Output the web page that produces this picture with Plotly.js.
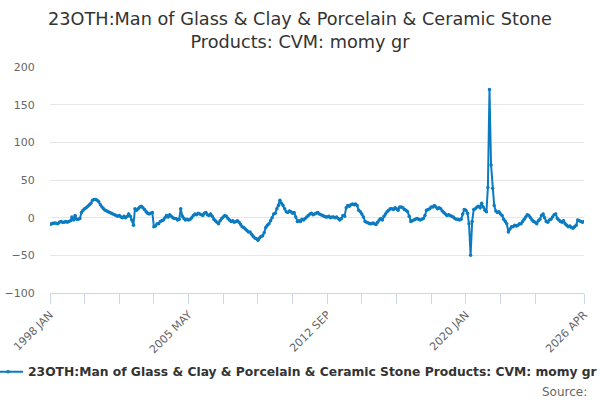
<!DOCTYPE html>
<html>
<head>
<meta charset="utf-8">
<script src="https://cdn.plot.ly/plotly-3.0.1.min.js"></script>
<style>
  html, body { margin: 0; padding: 0; background: #fff; }
  #chart { width: 600px; height: 400px; }
</style>
</head>
<body>
<div id="chart"></div>
<script>
// monthly values, one row per year, starting 1998 JAN
var values = [
  -9, -8, -7.5, -7, -7.5, -8, -6, -5, -6, -6, -5, -6,        // 1998
  -5, -4, 1, -3, 3, -2, -2, -1, 7, 10, 12, 13,               // 1999
  15, 17, 19, 23, 24, 24, 23, 21, 17, 14, 12, 10,            // 2000
  9, 8, 7, 6, 5, 4, 3, 2, 3, 1, 0, 2,                        // 2001
  0, 2, 5, 2, -3, -10, 12, 10, 12, 14, 15, 13,               // 2002
  11, 8, 6, 5, 6, 7, -12, -11, -8, -8, -5, -4,               // 2003
  -3, 0, 3, 1, 4, 2, 0, -1, -1, -3, -2, 12,                  // 2004
  2, -1, -3, -2, -3, -2, 0, 3, 5, 4, 6, 5,                   // 2005
  4, 3, 6, 7, 4, 3, 5, 2, -2, -4, -6, -8,                    // 2006
  -4, -1, 1, 3, 2, -1, -3, -5, -4, -6, -5, -4,               // 2007
  -6, -9, -12, -13, -15, -17, -19, -19, -22, -25, -27, -28,  // 2008
  -30, -27, -25, -24, -20, -13, -10, -8, -4, 0, 5, 6,        // 2009
  12, 16, 23, 19, 16, 12, 8, 7, 9, 8, 6, 7,                  // 2010
  1, -5, -4, -5, -2, -3, -1, 1, 3, 5, 6, 4,                  // 2011
  5, 6, 7, 5, 4, 3, 2, 1, 1, 2, 0, 1,                        // 2012
  1, 0, 1, -1, -3, -1, 3, 2, 13, 16, 15, 17,                 // 2013
  18, 17, 18, 16, 10, 8, 5, 1, -5, -6, -7, -8,               // 2014
  -8, -7, -8, -9, -6, -3, -1, -3, 2, 5, 8, 10,               // 2015
  12, 12, 11, 13, 12, 10, 14, 14, 13, 11, 10, 8,             // 2016
  2, -5, -4, -3, -2, -1, -2, -3, -2, -1, 3, 10,              // 2017
  11, 12, 14, 14, 16, 14, 12, 13, 12, 9, 7, 5,               // 2018
  3, 4, 3, 2, 1, -1, -2, -2, -3, -2, 5, 11,                  // 2019
  10, 6, -8, -50, -5, 11, 12, 14, 15, 13, 19, 14,            // 2020
  10, 8, 40, 170, 70, 39, 16, 9, 7, 8, 5, 3,                 // 2021
  -2, -5, -8, -19, -15, -12, -12, -10, -11, -10, -8, -8,     // 2022
  -5, -2, 1, 4, 3, 0, -3, -5, -6, -8, -4, -2,                // 2023
  3, 5, 0, -5, -6, -3, -2, 1, 4, 5, -1, -3,                  // 2024
  -5, -6, -4, -8, -10, -12, -11, -13, -14, -12, -10, -3,     // 2025
  -4, -5, -6, -5                                             // 2026
];

var startYear = 1998;
var seriesName = "23OTH:Man of Glass & Clay & Porcelain & Ceramic Stone Products: CVM: momy gr";
var chartTitle = "23OTH:Man of Glass & Clay & Porcelain & Ceramic Stone<br>Products: CVM: momy gr";

// x ticks every 22 months, label on every 4th
var tickDates = ["1998-01-01", "1999-11-01", "2001-09-01", "2003-07-01", "2005-05-01",
  "2007-03-01", "2009-01-01", "2010-11-01", "2012-09-01", "2014-07-01", "2016-05-01",
  "2018-03-01", "2020-01-01", "2021-11-01", "2023-09-01", "2026-04-01"];
var tickLabels = ["1998 JAN", "", "", "", "2005 MAY", "", "", "", "2012 SEP", "", "", "",
  "2020 JAN", "", "", "2026 APR"];

var yTicks = [-100, -50, 0, 50, 100, 150, 200];

function monthDate(i){
  var y = startYear + Math.floor(i/12);
  var m = (i % 12) + 1;
  return y + "-" + (m < 10 ? "0" + m : m) + "-01";
}

var dates = [];
for (var i = 0; i < values.length; i++) { dates.push(monthDate(i)); }

var trace = {
  x: dates, y: values, name: seriesName,
  mode: "lines+markers", type: "scatter",
  line: { color: "#0b7bc1", width: 2 },
  marker: { color: "#0b7bc1", size: 3.5 }
};

var layout = {
  width: 600, height: 400,
  margin: { l: 50, r: 16, t: 67, b: 107, pad: 0, autoexpand: false },
  paper_bgcolor: "#fff", plot_bgcolor: "#fff",
  font: { family: "DejaVu Sans, sans-serif", color: "#666" },
  title: {
    text: chartTitle,
    font: { family: "DejaVu Sans, sans-serif", size: 17.7, color: "#333" },
    x: 0.5, xanchor: "center", y: 0.937, yanchor: "top"
  },
  showlegend: true,
  legend: {
    orientation: "h", x: -0.116, xanchor: "left", y: -0.284, yanchor: "top",
    font: { family: "DejaVu Sans, sans-serif", size: 12.3, color: "#333", weight: "bold" },
    bgcolor: "rgba(0,0,0,0)"
  },
  xaxis: {
    type: "date", automargin: false,
    range: ["1998-01-01", "2026-04-01"],
    tickmode: "array", tickvals: tickDates, ticktext: tickLabels,
    tickangle: -45, ticks: "outside", ticklen: 10, tickcolor: "#ccd6eb", tickwidth: 1,
    tickfont: { size: 11, color: "#666" },
    showgrid: false, zeroline: false,
    showline: true, linecolor: "#ccd6eb", linewidth: 1
  },
  yaxis: {
    range: [-100, 200], automargin: false,
    tickmode: "array", tickvals: yTicks,
    tickfont: { size: 11, color: "#666" },
    showgrid: true, gridcolor: "#e6e6e6", gridwidth: 1,
    zeroline: false, showline: false, ticks: "outside", ticklen: 12, tickcolor: "rgba(0,0,0,0)"
  },
  annotations: [{
    text: "Source:", xref: "paper", yref: "paper", x: 1.009, y: -0.397,
    xanchor: "right", yanchor: "top", showarrow: false,
    font: { family: "DejaVu Sans, sans-serif", size: 12, color: "#666" }
  }]
};

Plotly.newPlot("chart", [trace], layout, { displayModeBar: false, staticPlot: true });
</script>
</body>
</html>
